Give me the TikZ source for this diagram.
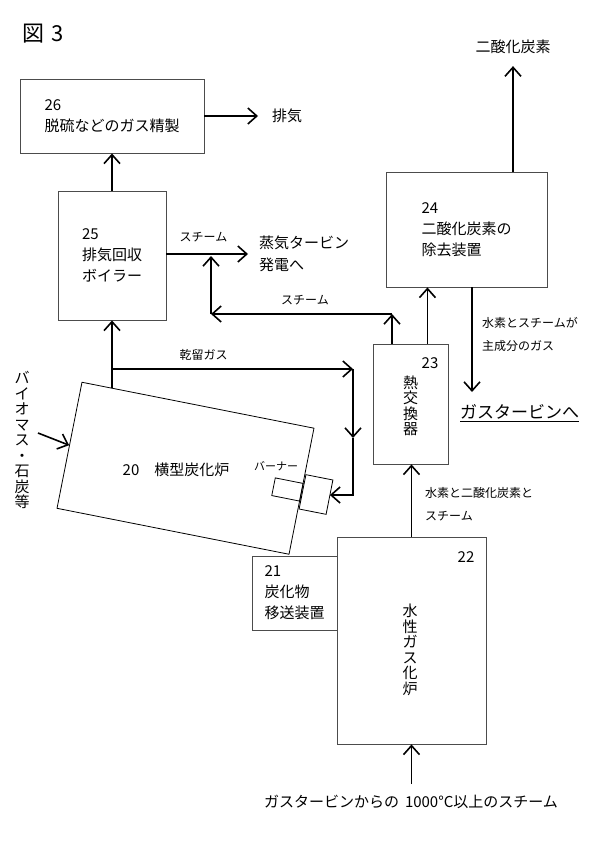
\documentclass[tikz,border=0pt]{standalone}
\usepackage{fontspec}
\setmainfont{Noto Sans CJK JP}
\usetikzlibrary{arrows.meta,positioning}

\begin{document}
\begin{tikzpicture}[x=1pt,y=-1pt,>={Straight Barb[length=9pt,width=16pt]}]
    \tikzset{block/.style={draw=black!70, line width=0.9pt, rectangle, align=left, inner sep=0pt, font=\fontsize{15}{21}\selectfont},
    tblock/.style={draw, line width=0.8pt, rectangle, rotate=-11.2, inner sep=0pt},
    lbl/.style={align=left, inner sep=0pt, font=\fontsize{15}{22}\selectfont},
    slbl/.style={align=left, inner sep=0pt, font=\fontsize{12}{23}\selectfont},
    tate/.style={align=center, inner sep=0pt, font=\fontsize{15}{15.5}\selectfont},
    flow/.style={->, line width=1.6pt},
    }
    \useasboundingbox (0,0) rectangle (595,842);
    \node [inner sep=0pt, font=\fontsize{22}{24}\selectfont] (fig) at (43,34) {図\hspace{0.35em}3};

    % units
    \node [block, minimum width=184, minimum height=74] (b26) at (112,116) {26\\脱硫などのガス精製};
    \node [block, minimum width=108, minimum height=129] (b25) at (112,255.5) {25\\排気回収\\ボイラー};
    \node [block, minimum width=161, minimum height=115] (b24) at (466.5,229.5) {24\\二酸化炭素の\\除去装置};
    \node [block, minimum width=75, minimum height=120] (b23) at (410.5,404) {};
    \node [block, minimum width=85, minimum height=74] (b21) at (294.5,593) {21\\炭化物\\移送装置};
    \node [block, minimum width=149, minimum height=207] (b22) at (411.5,640.5) {};
    \node [tblock, minimum width=236.5, minimum height=128.5] (f20) at (185.5,468.25) {};
    \node [tblock, minimum width=28.5, minimum height=18] (bi) at (287.5,489.5) {};
    \node [tblock, minimum width=27.5, minimum height=35] (bo) at (316,494.5) {};

    % texts
    \node [lbl] (f20t) at (176,470) {20\quad 横型炭化炉};
    \node [inner sep=0pt, font=\fontsize{11}{12}\selectfont] (burner) at (276,466) {バーナー};
    \node [inner sep=0pt, font=\fontsize{15}{16}\selectfont] (n22) at (466,557) {22};
    \node [tate] (t22) at (410,650) {水\\性\\ガ\\ス\\化\\炉};
    \node [inner sep=0pt, font=\fontsize{15}{16}\selectfont] (n23) at (430,363) {23};
    \node [tate] (t23) at (410.5,406) {熱\\交\\換\\器};
    \node [tate] (bio) at (22,440) {バ\\イ\\オ\\マ\\ス\\・\\石\\炭\\等};
    \node [lbl, anchor=west] (exh) at (272,116) {排気};
    \node [lbl, anchor=west] (tur) at (259,254) {蒸気タービン\\発電へ};
    \node [lbl] (co2) at (513,47) {二酸化炭素};
    \node [slbl, anchor=west] (h2gas) at (482,334.5) {水素とスチームが\\主成分のガス};
    \node [inner sep=0pt, anchor=west, font=\fontsize{17}{20}\selectfont] (gt) at (460,413) {\underline{ガスタービンへ}};
    \node [slbl] (stm1) at (203.5,237) {スチーム};
    \node [slbl] (stm2) at (305,300) {スチーム};
    \node [slbl] (dry) at (203.5,355) {乾留ガス};
    \node [slbl, anchor=west] (h2co2) at (425,504) {水素と二酸化炭素と\\スチーム};
    \node [lbl] (gsteam) at (411,802) {ガスタービンからの\hspace{0.4em}1000°C以上のスチーム};

    \coordinate (sj) at (392,314);
    \coordinate (sk) at (211,314);
    \coordinate (sk2) at (211,256);
    \coordinate (dg0) at (112,388.2);
    \coordinate (dg1) at (112,369);
    \coordinate (dg2) at (353,369);
    \coordinate (dg3) at (353,438);
    \coordinate (dg4) at (353,495);
    \coordinate (bm0) at (38,433);
    \coordinate (gtin) at (472,392);

% paths
    \draw[flow] (b25.north) -- (b26.south);
    \draw[flow, shorten >=14pt] (exh.west -| b26.east) -- (exh.west);
    \draw[flow, shorten >=11pt] (tur.west -| b25.east) -- (tur.west);
    \draw[flow] (b23.north -| sj) -- (sj);
    \draw[flow] (sj) -- (sk);
    \draw[flow] (sk) -- (sk2);
    \draw[flow] ([xshift=-21pt]b23.north east) -- ([xshift=-21pt]b23.north east |- b24.south);
    \draw[flow, shorten >=12pt] (co2.south |- b24.north) -- (co2.south);
    \draw[flow] (gtin |- b24.south) -- (gtin);
    \draw[flow] (b22.north) -- (b22.north |- b23.south);
    \draw[flow, shorten <=11pt] (gsteam.north -| b22.south) -- (b22.south);
    \draw[flow] (dg0) -- (b25.south);
    \draw[flow] (dg1) -- (dg2);
    \draw[flow] (dg2) -- (dg3);
    \draw[flow] (dg3) -- (dg4) -- (dg4 -| bo.east);
    \draw[flow] (bm0) -- (f20.west);
\end{tikzpicture}
\end{document}
